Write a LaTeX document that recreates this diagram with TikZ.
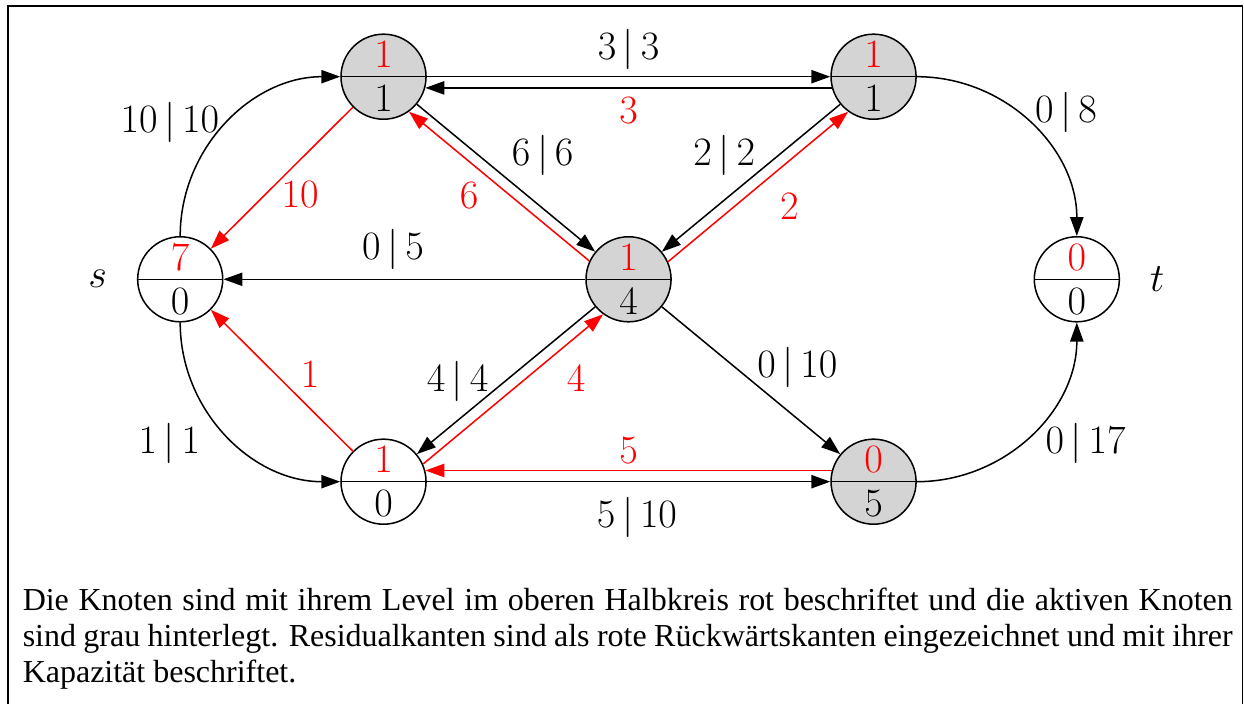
\documentclass[tikz,border=0pt]{standalone}
\usepackage{fontspec}
\usepackage{tikz}
\usetikzlibrary{arrows.meta,positioning}
\newfontfamily\capfont{Liberation Serif}
\colorlet{activegray}{black!17}

\begin{document}
\begin{tikzpicture}[>={Triangle[length=8.15pt,width=5.7pt]},line width=0.65pt,
  font=\fontsize{17.28pt}{18.8pt}\selectfont,
  vert/.style={circle,draw,minimum size=36.5pt,inner sep=0pt,align=center,
    path picture={\draw (path picture bounding box.west) -- (path picture bounding box.east);}},
  active/.style={vert,fill=activegray},
  flow/.style={->},
  res/.style={->,red},
  lbl/.style={inner sep=0pt}]
  \useasboundingbox (-77.34pt,-182.27pt) rectangle (456.57pt,119.87pt);
  \draw (-73.9pt,-182.27pt) -- (-73.9pt,117.3pt) -- (455.9pt,117.3pt) -- (455.9pt,-182.27pt);

  \node[vert]   (s) at (0,0)            {\textcolor{red}{$7$}\\$0$};
  \node[active] (a) at (3.067,3.056)    {\textcolor{red}{$1$}\\$1$};
  \node[active] (c) at (6.763,0)        {\textcolor{red}{$1$}\\$4$};
  \node[active] (b) at (10.459,3.056)   {\textcolor{red}{$1$}\\$1$};
  \node[vert]   (t) at (13.525,0)       {\textcolor{red}{$0$}\\$0$};
  \node[vert]   (d) at (3.067,-3.053)   {\textcolor{red}{$1$}\\$0$};
  \node[active] (e) at (10.459,-3.053)  {\textcolor{red}{$0$}\\$5$};
  \node[left=9.2pt of s]  (sname) {$s$};
  \node[right=9.2pt of t] (tname) {$t$};

  % Fluss | Kapazitaet
  \draw[flow] (s) to[out=90,in=180] node[lbl,xshift=-24.6pt,yshift=0.2pt] {$10\,|\,10$} (a);
  \draw[flow] (s) to[out=-90,in=180] node[lbl,xshift=-24.8pt,yshift=-3.75pt] {$1\,|\,1$} (d);
  \draw[flow] (a) -- node[lbl,yshift=11.5pt] {$3\,|\,3$} (b);
  \draw[flow] (a) -- node[lbl,xshift=15.7pt,yshift=9.7pt] {$6\,|\,6$} (c);
  \draw[flow] (b) -- node[lbl,xshift=-11.5pt,yshift=9.7pt] {$2\,|\,2$} (c);
  \draw[flow] (b) to[out=0,in=90] node[lbl,xshift=15.5pt,yshift=4.5pt] {$0\,|\,8$} (t);
  \draw[flow] (c) -- node[lbl,xshift=-4.9pt,yshift=12.6pt] {$0\,|\,5$} (s);
  \draw[flow] (c) -- node[lbl,xshift=-20.8pt,yshift=-0.6pt] {$4\,|\,4$} (d);
  \draw[flow] (c) -- node[lbl,xshift=19.9pt,yshift=5.4pt] {$0\,|\,10$} (e);
  \draw[flow] (d) -- node[lbl,xshift=3.6pt,yshift=-15.5pt] {$5\,|\,10$} (e);
  \draw[flow] (e) to[out=0,in=-90] node[lbl,xshift=23.9pt,yshift=-3.75pt] {$0\,|\,17$} (t);

  % Residualkanten
  \draw[flow] (b.195) -- node[lbl,yshift=-9.6pt,text=red] {$3$} (a.-15);
  \draw[res] (a) -- node[lbl,xshift=7.8pt,yshift=-7.3pt] {$10$} (s);
  \draw[res] (c.155.4) -- node[lbl,xshift=-12.9pt,yshift=-4.1pt] {$6$} (a.-54.6);
  \draw[res] (c.24.6) -- node[lbl,xshift=13.4pt,yshift=-8.4pt] {$2$} (b.234.6);
  \draw[res] (d) -- node[lbl,xshift=12.1pt,yshift=2.4pt] {$1$} (s);
  \draw[res] (d.24.5) -- node[lbl,xshift=27pt,yshift=4.6pt] {$4$} (c.234.5);
  \draw[res] (e.165) -- node[lbl,yshift=8.5pt] {$5$} (d.15);

  \node[anchor=north west,text width=519.3pt,align=justify,inner sep=0pt,
        font=\capfont\fontsize{13.73pt}{15.45pt}\selectfont] (cap) at (-67.9pt,-132.2pt)
    {Die Knoten sind mit ihrem Level im oberen Halbkreis rot beschriftet und die aktiven Knoten sind grau hinterlegt. Residualkanten sind als rote Rückwärtskanten eingezeichnet und mit ihrer Kapazität beschriftet.};
\end{tikzpicture}
\end{document}
